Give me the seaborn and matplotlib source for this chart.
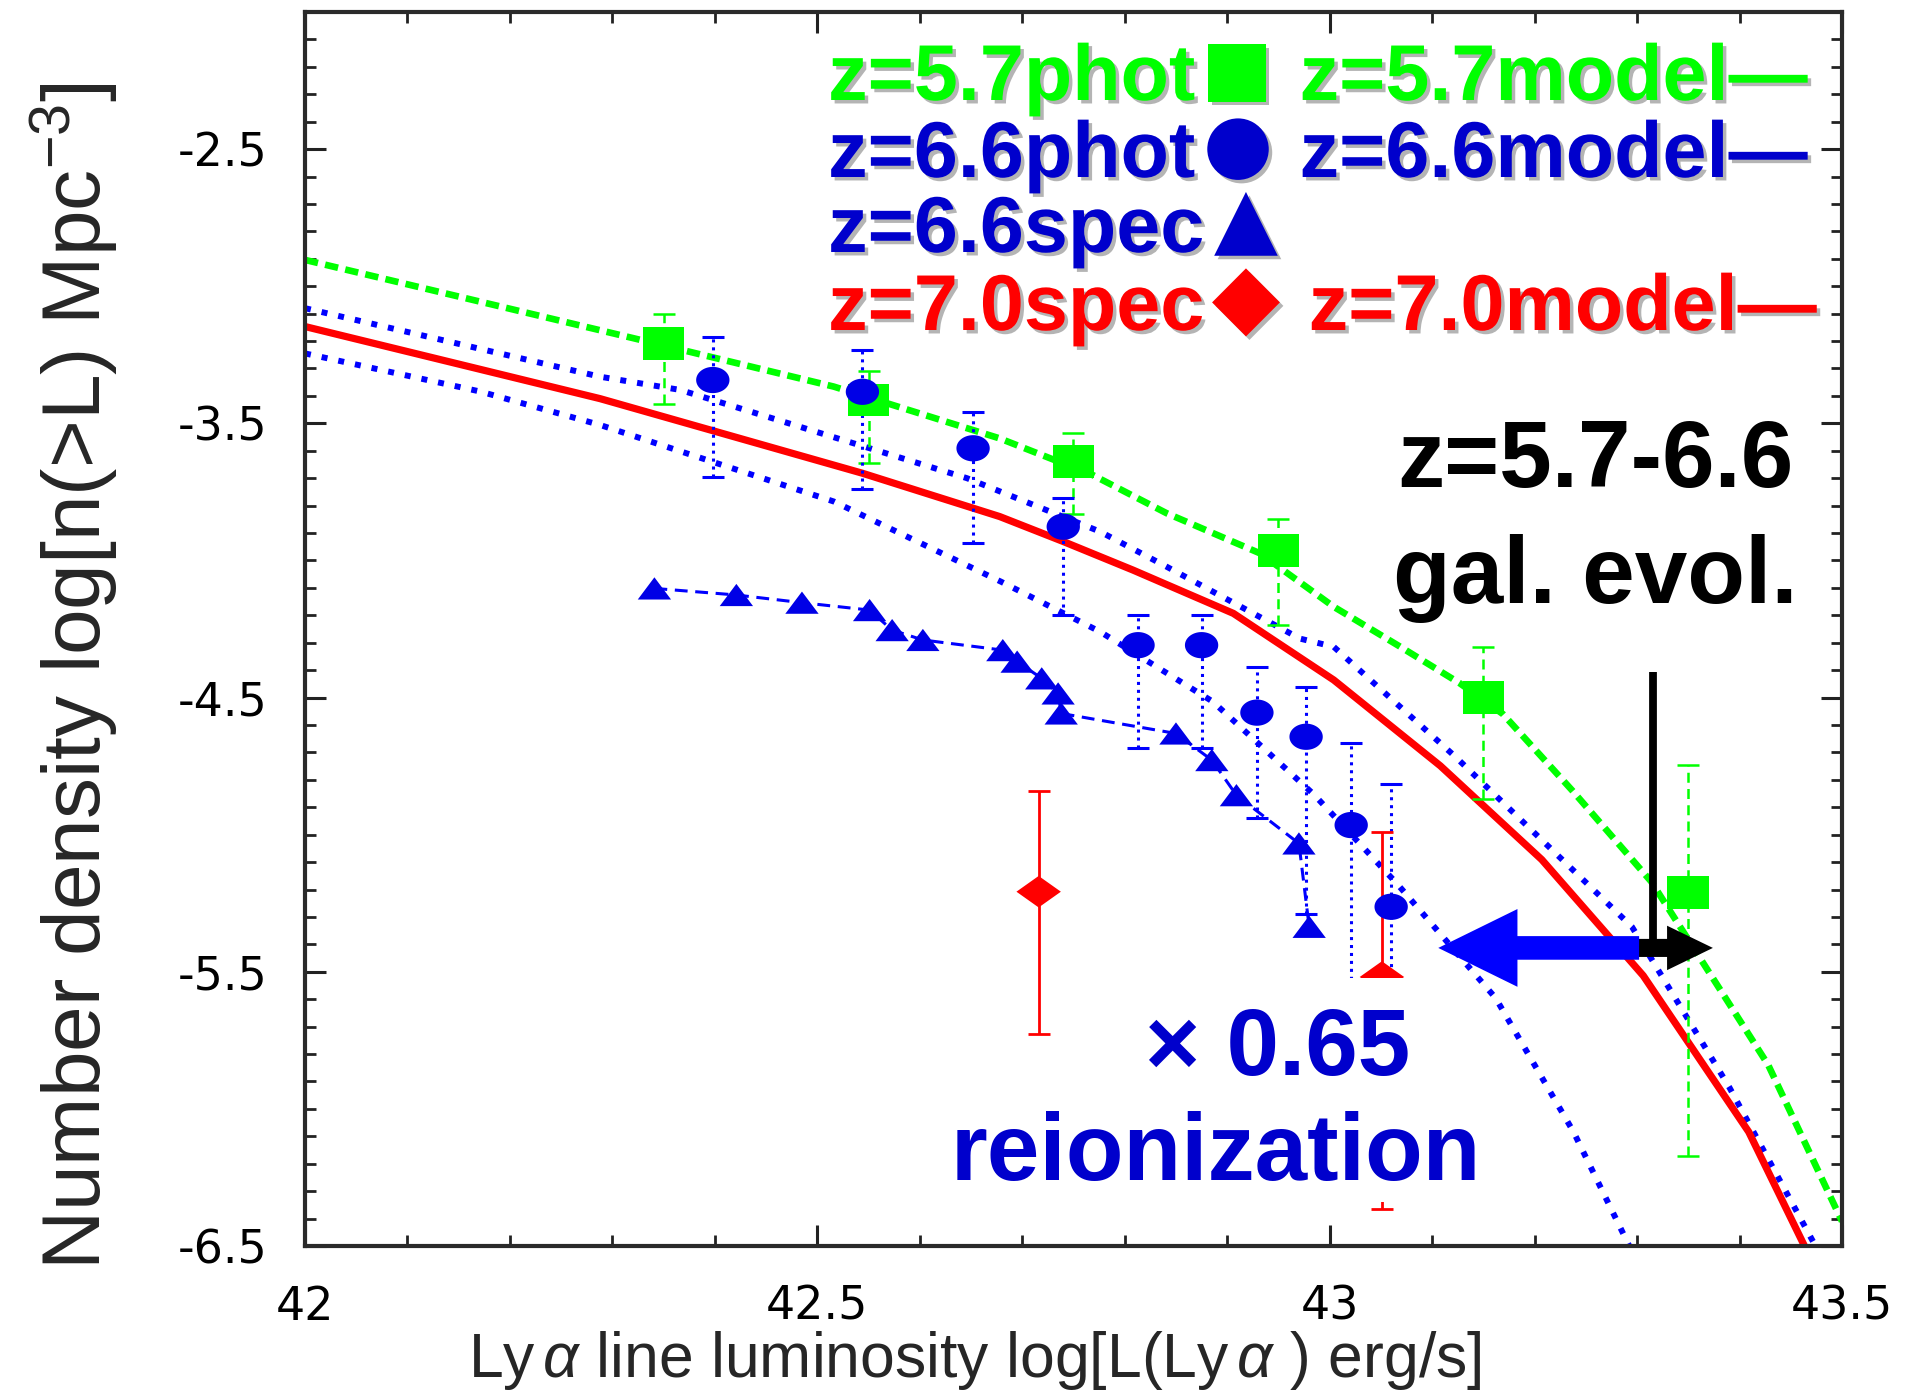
import numpy as np
import matplotlib
matplotlib.use("Agg")
import matplotlib.pyplot as plt
import seaborn as sns
from matplotlib.path import Path
from matplotlib.ticker import MultipleLocator, FixedLocator, FuncFormatter
import matplotlib.patheffects as pe

# ---------------- data ----------------
# z=5.7 photometric (green squares)
phot57_x = [42.35, 42.55, 42.75, 42.95, 43.15, 43.35]
phot57_y = [-3.21, -3.415, -3.64, -3.965, -4.50, -5.21]
phot57_lo = [-3.43, -3.645, -3.83, -4.235, -4.87, -6.17]
phot57_hi = [-3.10, -3.31, -3.535, -3.85, -4.315, -4.745]

# z=6.6 photometric (blue circles)
phot66_x = [42.398, 42.544, 42.652, 42.740, 42.813, 42.875, 42.929, 42.977, 43.021, 43.060]
phot66_y = [-3.342, -3.385, -3.591, -3.877, -4.309, -4.309, -4.555, -4.643, -4.965, -5.263]
phot66_lo = [-3.697, -3.741, -3.938, -4.199, -4.685, -4.685, -4.939, -5.29, -5.70, -5.80]
phot66_hi = [-3.186, -3.233, -3.458, -3.774, -4.199, -4.199, -4.389, -4.461, -4.665, -4.817]

# z=6.6 spectroscopic (blue triangles)
spec66_x = [42.341, 42.421, 42.485, 42.551, 42.573, 42.603, 42.681, 42.695,
            42.719, 42.735, 42.738, 42.850, 42.885, 42.909, 42.970, 42.980]
spec66_y = [-4.102, -4.126, -4.154, -4.181, -4.254, -4.290, -4.327, -4.369,
            -4.430, -4.485, -4.558, -4.631, -4.728, -4.856, -5.032, -5.336]

# z=7.0 spectroscopic (red diamonds)
spec70_x = [42.716, 43.051]
spec70_y = [-5.208, -5.519]
spec70_lo = [-5.728, -6.365]
spec70_hi = [-4.841, -4.989]

# model curves
model57_x = [42.0, 42.321, 42.516, 42.678, 42.769, 42.841, 42.932, 43.004, 43.069,
             43.127, 43.169, 43.237, 43.314, 43.428, 43.5]
model57_y = [-2.904, -3.19, -3.366, -3.555, -3.689, -3.828, -3.974, -4.169, -4.315,
             -4.448, -4.56, -4.84, -5.172, -5.84, -6.41]
model66a_x = [42.0, 42.288, 42.366, 42.646, 42.776, 42.841, 42.971, 43.004, 43.123,
              43.295, 43.39, 43.477]
model66a_y = [-3.08, -3.33, -3.378, -3.70, -3.895, -4.023, -4.285, -4.315, -4.717,
              -5.336, -5.921, -6.52]
model66b_x = [42.0, 42.171, 42.288, 42.516, 42.679, 42.776, 42.886, 42.985, 43.066,
              43.162, 43.238, 43.295]
model66b_y = [-3.245, -3.384, -3.506, -3.785, -4.077, -4.26, -4.515, -4.855, -5.18,
              -5.596, -6.084, -6.52]
model70_x = [42.0, 42.288, 42.544, 42.678, 42.74, 42.808, 42.906, 43.004, 43.108,
             43.207, 43.306, 43.409, 43.466]
model70_y = [-3.147, -3.41, -3.682, -3.84, -3.931, -4.035, -4.193, -4.436, -4.749,
             -5.091, -5.514, -6.084, -6.52]

x_ticks = [42, 42.5, 43, 43.5]
y_ticks = [-6.5, -5.5, -4.5, -3.5, -2.5]

# ---------------- style ----------------
sns.set_theme(style="ticks")
plt.rcParams["font.family"] = ["DejaVu Sans"]
plt.rcParams["axes.unicode_minus"] = False
plt.rcParams["mathtext.fontset"] = "custom"
plt.rcParams["mathtext.rm"] = "Liberation Sans"
plt.rcParams["mathtext.it"] = "Liberation Sans:italic"
plt.rcParams["mathtext.bf"] = "Liberation Sans:bold"

GREEN = "#00FF00"
BLUE = "#0000FF"
BLUE_M = "#0000E6"
BLUE_T = "#0000CC"
RED = "#FF0000"

W, H = 1911, 1391
fig = plt.figure(figsize=(W / 100, H / 100), dpi=100)
fig.patch.set_facecolor("white")
ax = fig.add_axes([305 / W, 1 - 1246 / H, (1842 - 305) / W, (1246 - 12) / H])
ax.set_facecolor("white")

def fx(px):
    return px / W

def fy(py):
    return 1 - py / H

# marker shapes (stretched horizontally like the reference)
SQUARE = Path([(-1.27, -1), (1.27, -1), (1.27, 1), (-1.27, 1), (-1.27, -1)], closed=True)
_t = np.linspace(0, 2 * np.pi, 64)
ELLIPSE = Path(np.column_stack([1.27 * np.cos(_t), np.sin(_t)]), closed=True)
TRIANGLE = Path([(0, 1), (-1.5, -1), (1.5, -1), (0, 1)], closed=True)
DIAMOND = Path([(0, 1), (1.41, 0), (0, -1), (-1.41, 0), (0, 1)], closed=True)

# ---------------- model curves ----------------
sns.lineplot(x=model57_x, y=model57_y, ax=ax, color=GREEN, lw=4.8,
             linestyle=(0, (2.0, 1.1)), dash_capstyle="butt", sort=False,
             errorbar=None, zorder=2)
sns.lineplot(x=model66a_x, y=model66a_y, ax=ax, color=BLUE, lw=4.3,
             linestyle=(0, (1.0, 1.85)), dash_capstyle="butt", sort=False,
             errorbar=None, zorder=2)
sns.lineplot(x=model66b_x, y=model66b_y, ax=ax, color=BLUE, lw=4.3,
             linestyle=(0, (1.0, 1.85)), dash_capstyle="butt", sort=False,
             errorbar=None, zorder=2)
sns.lineplot(x=model70_x, y=model70_y, ax=ax, color=RED, lw=5.2,
             sort=False, errorbar=None, zorder=2)

# ---------------- error bars ----------------
def errbars(xs, ys, lo, hi, color, lw, ls, cap):
    ys = np.asarray(ys)
    yerr = [ys - np.asarray(lo), np.asarray(hi) - ys]
    eb = ax.errorbar(xs, ys, yerr=yerr, fmt="none", ecolor=color,
                     elinewidth=lw, capsize=cap, capthick=lw, zorder=3)
    for lc in eb.lines[2]:
        lc.set_linestyle(ls)
    return eb

errbars(phot57_x, phot57_y, phot57_lo, phot57_hi, GREEN, 1.8, (0, (4, 2.5)), 8)
errbars(phot66_x, phot66_y, phot66_lo, phot66_hi, BLUE, 2.2, (0, (1.0, 1.6)), 8)
errbars(spec70_x, spec70_y, spec70_lo, spec70_hi, RED, 2.0, "solid", 8)

# ---------------- data points ----------------
sns.lineplot(x=spec66_x, y=spec66_y, ax=ax, color=BLUE, lw=2.2,
             linestyle=(0, (4.2, 2.5)), sort=False, errorbar=None, zorder=3)
sns.scatterplot(x=spec66_x, y=spec66_y, ax=ax, marker=TRIANGLE, s=24 ** 2,
                color=BLUE_M, edgecolor="none", linewidth=0, zorder=4, legend=False)
sns.scatterplot(x=phot57_x, y=phot57_y, ax=ax, marker=SQUARE, s=30 ** 2,
                color=GREEN, edgecolor="none", linewidth=0, zorder=4, legend=False)
sns.scatterplot(x=phot66_x, y=phot66_y, ax=ax, marker=ELLIPSE, s=24 ** 2,
                color=BLUE_M, edgecolor="none", linewidth=0, zorder=5, legend=False)
sns.scatterplot(x=spec70_x, y=spec70_y, ax=ax, marker=DIAMOND, s=32 ** 2,
                color=RED, edgecolor="none", linewidth=0, zorder=5, legend=False)

# ---------------- arrows ----------------
ARROW_Y = -5.413
ax.plot([43.316, 43.316], [-4.408, ARROW_Y], color="black", lw=5.6,
        solid_capstyle="butt", zorder=6)
ax.annotate("", xy=(43.374, ARROW_Y), xytext=(43.30, ARROW_Y),
            arrowprops=dict(arrowstyle="simple,head_length=33,head_width=32,tail_width=13",
                            mutation_scale=1, color="black", lw=0,
                            shrinkA=0, shrinkB=0), zorder=6)
ax.annotate("", xy=(43.106, ARROW_Y), xytext=(43.302, ARROW_Y),
            arrowprops=dict(arrowstyle="simple,head_length=57,head_width=56,tail_width=17",
                            mutation_scale=1, color=BLUE, lw=0,
                            shrinkA=0, shrinkB=0), zorder=7)

# ---------------- axes ----------------
ax.set_xlim(42, 43.5)
ax.set_ylim(-6.5, -2.0)
ax.xaxis.set_major_locator(FixedLocator(x_ticks))
ax.xaxis.set_minor_locator(MultipleLocator(0.1))
ax.yaxis.set_major_locator(FixedLocator(y_ticks))
ax.yaxis.set_minor_locator(MultipleLocator(0.1))
ax.xaxis.set_major_formatter(FuncFormatter(lambda v, p: f"{v:g}"))
ax.yaxis.set_major_formatter(FuncFormatter(lambda v, p: f"{v:g}"))
ax.tick_params(which="both", direction="in", top=True, right=True, color="#222222")
ax.tick_params(which="major", length=15, width=2.2, labelsize=33, pad=27,
               labelcolor="black")
ax.tick_params(axis="x", which="major", pad=28)
ax.tick_params(which="minor", length=8, width=2.0)
for sp in ax.spines.values():
    sp.set_linewidth(3)
    sp.set_color("#2a2a2a")
ax.set_xlabel("")
ax.set_ylabel("")

# ---------------- texts ----------------
fig.text(fx(975), fy(1377), r"Ly$\,\alpha$ line luminosity log[L(Ly$\,\alpha$ ) erg/s]",
         family="Liberation Sans", fontsize=45, ha="center", va="baseline")
fig.text(fx(75), fy(676), r"Number density log[n(>L) Mpc$^{-3}$]",
         family="Liberation Sans", fontsize=59, rotation=90, ha="center", va="center")

shadow = [pe.SimplePatchShadow(offset=(2.5, -2.5), shadow_rgbFace="#b4b4b4", alpha=1.0),
          pe.Normal()]
LEG_FS = 57
legend_rows = [
    ("z=5.7phot", 828, 100, GREEN, "\u25A0", 1237, 72, 54),
    ("z=6.6phot", 828, 177, BLUE_T, "\u25CF", 1238, 148, 58),
    ("z=6.6spec", 828, 252, BLUE_T, "\u25B2", 1246, 222, 60),
    ("z=7.0spec", 828, 330, RED, "\u25C6", 1246, 301, 64),
]
for txt, x0, yb, col, glyph, gx, gy, gfs in legend_rows:
    fig.text(fx(x0), fy(yb), txt, family="Liberation Sans", weight="bold",
             fontsize=LEG_FS, color=col, ha="left", va="baseline", path_effects=shadow)
    fig.text(fx(gx), fy(gy), glyph, family="DejaVu Sans", fontsize=gfs,
             color=col, ha="center", va="center", path_effects=shadow)
model_rows = [
    ("z=5.7model\u2014", 1299.5, 100, GREEN),
    ("z=6.6model\u2014", 1299.5, 177, BLUE_T),
    ("z=7.0model\u2014", 1308.6, 330, RED),
]
for txt, x0, yb, col in model_rows:
    fig.text(fx(x0), fy(yb), txt, family="Liberation Sans", weight="bold",
             fontsize=LEG_FS, color=col, ha="left", va="baseline", path_effects=shadow)

fig.text(fx(1595), fy(487), "z=5.7-6.6", family="Liberation Sans", weight="bold",
         fontsize=68, color="black", ha="center", va="baseline")
fig.text(fx(1595), fy(603), "gal. evol.", family="Liberation Sans", weight="bold",
         fontsize=68, color="black", ha="center", va="baseline")

fig.text(fx(1278), fy(1075), "\u00D7 0.65", family="Liberation Sans", weight="bold",
         fontsize=68, color=BLUE_T, ha="center", va="baseline",
         bbox=dict(boxstyle="square,pad=0.3", facecolor="white", edgecolor="none"))
fig.text(fx(1216), fy(1180), "reionization", family="Liberation Sans", weight="bold",
         fontsize=68, color=BLUE_T, ha="center", va="baseline",
         bbox=dict(boxstyle="square,pad=0.02", facecolor="white", edgecolor="none"))

fig.savefig("out.png", dpi=100, facecolor="white")
